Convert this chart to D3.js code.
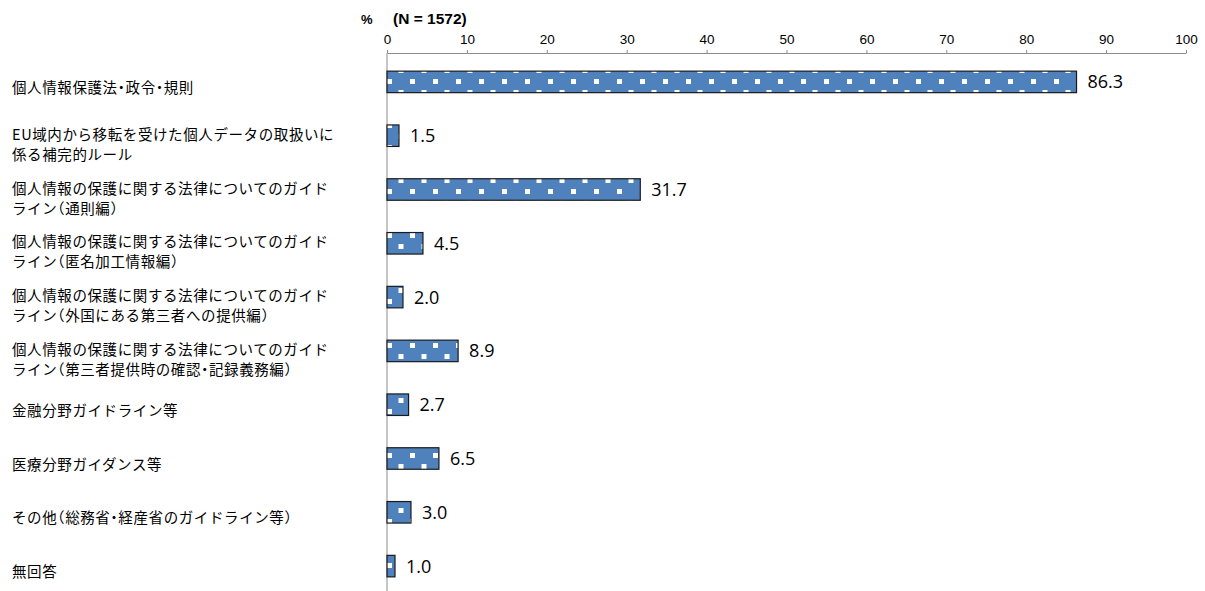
<!DOCTYPE html>
<html>
<head>
<meta charset="utf-8">
<script src="https://cdn.jsdelivr.net/npm/d3@7"></script>
<style>
  html, body { margin: 0; padding: 0; background: #fff; }
  svg { display: block; }
  .half { font-feature-settings: "halt" 1; }
</style>
</head>
<body>
<svg id="chart" width="1205" height="591"></svg>
<script>
// Survey categories (each entry is the label split into its display lines)
const categories = [
  ["個人情報保護法・政令・規則"],
  ["EU域内から移転を受けた個人データの取扱いに", "係る補完的ルール"],
  ["個人情報の保護に関する法律についてのガイド", "ライン（通則編）"],
  ["個人情報の保護に関する法律についてのガイド", "ライン（匿名加工情報編）"],
  ["個人情報の保護に関する法律についてのガイド", "ライン（外国にある第三者への提供編）"],
  ["個人情報の保護に関する法律についてのガイド", "ライン（第三者提供時の確認・記録義務編）"],
  ["金融分野ガイドライン等"],
  ["医療分野ガイダンス等"],
  ["その他（総務省・経産省のガイドライン等）"],
  ["無回答"]
];
// Share of respondents (%)
const values = [86.3, 1.5, 31.7, 4.5, 2.0, 8.9, 2.7, 6.5, 3.0, 1.0];
const tickValues = [0, 10, 20, 30, 40, 50, 60, 70, 80, 90, 100];
const unitLabel = "%";
const sampleLabel = "(N = 1572)";

const svg = d3.select("#chart");
const keys = categories.map((c, i) => i);

const x = d3.scaleLinear().domain([0, 100]).range([387, 1186]);
const y = d3.scaleBand().domain(keys).range([55, 593])
  .paddingInner(0.6).paddingOuter(0.3);

// dotted fill for the bars
const defs = svg.append("defs");
const pat = defs.append("pattern")
  .attr("id", "dots")
  .attr("patternUnits", "userSpaceOnUse")
  .attr("x", 387).attr("y", 79)
  .attr("width", 23).attr("height", 22);
pat.append("rect").attr("width", 23).attr("height", 22).attr("fill", "#4f81bd");
pat.append("rect").attr("x", 0).attr("y", 0).attr("width", 5).attr("height", 5).attr("fill", "#fff");
pat.append("rect").attr("x", 11.5).attr("y", 11).attr("width", 5).attr("height", 5).attr("fill", "#fff");

// top axis
const axis = d3.axisTop(x).tickValues(tickValues).tickSize(3).tickSizeOuter(0).tickPadding(6);
const ax = svg.append("g").attr("transform", "translate(0,53)").call(axis);
ax.select(".domain").attr("stroke", "#8c8c8c");
ax.selectAll(".tick line").attr("stroke", "#8c8c8c");
ax.selectAll(".tick text")
  .attr("font-family", "'Liberation Sans', Arial, sans-serif")
  .attr("font-size", 13.5).attr("fill", "#000");

// vertical baseline
svg.append("line")
  .attr("x1", x(0)).attr("x2", x(0))
  .attr("y1", 53).attr("y2", 591)
  .attr("stroke", "#8c8c8c").attr("stroke-width", 1);

// unit and sample size
svg.append("text").attr("x", 361).attr("y", 24)
  .attr("font-family", "'Liberation Sans', Arial, sans-serif")
  .attr("font-size", 13).attr("font-weight", "bold").text(unitLabel);
svg.append("text").attr("x", 393).attr("y", 24)
  .attr("font-family", "'Liberation Sans', Arial, sans-serif")
  .attr("font-size", 15.5).attr("font-weight", "bold").text(sampleLabel);

// bars
svg.append("g").selectAll("rect").data(values).join("rect")
  .attr("x", x(0))
  .attr("y", (d, i) => y(i))
  .attr("width", d => x(d) - x(0))
  .attr("height", y.bandwidth())
  .attr("fill", "url(#dots)")
  .attr("stroke", "#1a1a1a").attr("stroke-width", 1.2);

// value labels
svg.append("g").selectAll("text").data(values).join("text")
  .attr("x", d => x(d) + 11)
  .attr("y", (d, i) => y(i) + y.bandwidth() / 2)
  .attr("dy", "0.36em")
  .attr("font-family", "'Open Sans', sans-serif")
  .attr("font-size", 18).attr("fill", "#000")
  .text(d => d.toFixed(1));

// category labels; brackets and middle dots are set half-width
const narrow = /[（）・]/;
const lab = svg.append("g").selectAll("text").data(categories).join("text")
  .attr("font-family", "'Noto Sans CJK JP', sans-serif")
  .attr("font-size", 14.5)
  .attr("letter-spacing", "0.6px")
  .attr("fill", "#000");
lab.each(function(lines, i) {
  const cy = y(i) + y.bandwidth() / 2;
  const t = d3.select(this);
  const start = lines.length === 1 ? cy + 6 : cy - 1;
  lines.forEach((line, j) => {
    const runs = line.match(/[（）・]+|[^（）・]+/g);
    runs.forEach((run, k) => {
      const s = t.append("tspan").text(run);
      if (k === 0) s.attr("x", 12).attr("y", start + j * 20 + 5);
      if (narrow.test(run)) s.attr("class", "half");
    });
  });
});
</script>
</body>
</html>
